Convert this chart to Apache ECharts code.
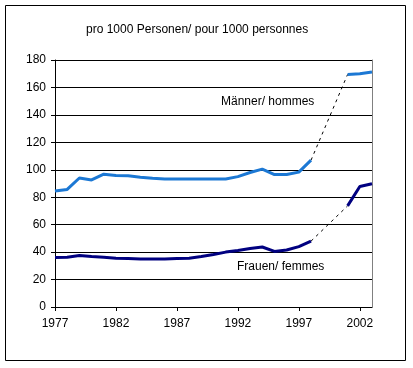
<!DOCTYPE html>
<html><head><meta charset="utf-8">
<script src="https://cdn.jsdelivr.net/npm/echarts@6/dist/echarts.min.js"></script>
<style>html,body{margin:0;padding:0;background:#fff}#c{width:413px;height:368px}</style>
</head><body><div id="c"></div>
<script>
var years = [1977,1978,1979,1980,1981,1982,1983,1984,1985,1986,1987,1988,1989,1990,1991,1992,1993,1994,1995,1996,1997,1998,1999,2000,2001,2002,2003];
var men = [84.5,85.7,94,92.6,96.8,95.8,95.6,94.6,93.8,93.3,93.3,93.3,93.3,93.3,93.3,95,98,100.5,96.5,96.5,98.3,107,null,null,169.5,170,171.3];
var women = [36.1,36.3,37.6,36.8,36.3,35.6,35.3,34.9,34.9,34.9,35.4,35.6,36.8,38.3,40,41.2,42.7,43.7,40.5,41.5,44,48,null,null,73.7,87.8,89.8];
var menGap = [null,null,null,null,null,null,null,null,null,null,null,null,null,null,null,null,null,null,null,null,null,107,null,null,169.5,null,null];
var womenGap = [null,null,null,null,null,null,null,null,null,null,null,null,null,null,null,null,null,null,null,null,null,48,null,null,73.7,null,null];
var yTicks = [0,20,40,60,80,100,120,140,160,180];
var title = 'pro 1000 Personen/ pour 1000 personnes';
var menLabel = 'Männer/ hommes';
var womenLabel = 'Frauen/ femmes';

var chart = echarts.init(document.getElementById('c'));
var font = 'Liberation Sans, Arial, sans-serif';
chart.setOption({
  animation: false,
  backgroundColor: '#fff',
  grid: {left: 55, right: 41, top: 60, bottom: 61},
  xAxis: {
    type: 'category', data: years.map(String), boundaryGap: false,
    axisLine: {lineStyle: {color: '#000', width: 1}},
    axisTick: {show: true, interval: 4, length: 4, lineStyle: {color: '#000'}},
    axisLabel: {interval: 4, color: '#000', fontFamily: font, fontSize: 12, margin: 11},
    splitLine: {show: false}
  },
  yAxis: [{
    type: 'value', min: yTicks[0], max: yTicks[yTicks.length-1], interval: 20,
    axisLine: {show: true, lineStyle: {color: '#000'}},
    axisTick: {show: true, length: 4, lineStyle: {color: '#000'}},
    axisLabel: {color: '#000', fontFamily: font, fontSize: 12, margin: 9},
    splitLine: {show: true, lineStyle: {color: '#000', width: 1}}
  }, {
    type: 'value', position: 'right', min: 0, max: 180, interval: 20,
    axisLine: {show: true, lineStyle: {color: '#808080'}},
    axisTick: {show: false}, axisLabel: {show: false}, splitLine: {show: false}
  }],
  graphic: [
    {type: 'rect', shape: {x: 5.5, y: 5.5, width: 400, height: 355}, style: {fill: 'none', stroke: '#000', lineWidth: 1}, z: 100},
    {type: 'text', left: 86, top: 24, style: {text: title, fill: '#000', font: '12px ' + font}, z: 100},
    {type: 'text', left: 221, top: 96, style: {text: menLabel, fill: '#000', font: '12px ' + font}, z: 100},
    {type: 'text', left: 237, top: 261, style: {text: womenLabel, fill: '#000', font: '12px ' + font}, z: 100}
  ],
  series: [
    {type: 'line', data: men, showSymbol: false, connectNulls: false, lineStyle: {color: '#1C78D4', width: 3}, itemStyle: {color: '#1C78D4'}, z: 5},
    {type: 'line', data: women, showSymbol: false, connectNulls: false, lineStyle: {color: '#000080', width: 3}, itemStyle: {color: '#000080'}, z: 5},
    {type: 'line', data: menGap, showSymbol: false, connectNulls: true, lineStyle: {color: '#000', width: 1, type: [3,4]}, z: 4},
    {type: 'line', data: womenGap, showSymbol: false, connectNulls: true, lineStyle: {color: '#000', width: 1, type: [3,4]}, z: 4}
  ]
});
</script></body></html>
